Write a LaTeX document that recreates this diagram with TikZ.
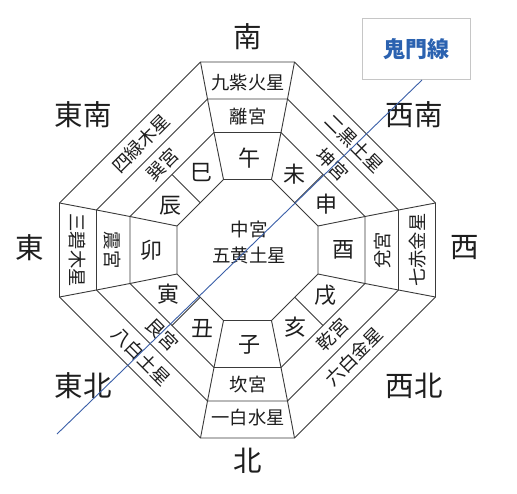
\documentclass[tikz,border=0pt]{standalone}
\usepackage{fontspec}
\usetikzlibrary{calc}
\setmainfont{Noto Sans CJK JP}
\definecolor{linegray}{HTML}{3A3A3A}
\definecolor{txt}{HTML}{1E1E1E}
\definecolor{kblue}{HTML}{2B62B0}
\definecolor{lblue}{HTML}{3A5FA8}
\begin{document}
\begin{tikzpicture}[x=1pt,y=-1pt,
  dirtxt/.style={font=\fontsize{28.5}{30}\selectfont, text=txt, inner sep=0pt},
  zodtxt/.style={font=\fontsize{22}{23}\selectfont, text=txt, inner sep=0pt},
  ringtxt/.style={font=\fontsize{18.3}{19}\selectfont, text=txt, inner sep=0pt},
  ctrtxt/.style={font=\fontsize{18.5}{19}\selectfont, text=txt, inner sep=0pt},
  oct/.style={draw=linegray, line width=0.9pt, line join=round},
  rad/.style={draw=linegray, line width=0.9pt}]
\useasboundingbox (0,0) rectangle (517,493);
\fill[white] (0,0) rectangle (517,493);
\begin{scope}[shift={(247.5,250)}]
  \foreach \n/\D/\h in {0/188/47,1/151/40,2/117.5/33.5,3/70.5/24}{
    \coordinate (L\n-1) at (-\h,-\D);
    \coordinate (L\n-2) at (\h,-\D);
    \coordinate (L\n-3) at (\D,-\h);
    \coordinate (L\n-4) at (\D,\h);
    \coordinate (L\n-5) at (\h,\D);
    \coordinate (L\n-6) at (-\h,\D);
    \coordinate (L\n-7) at (-\D,\h);
    \coordinate (L\n-8) at (-\D,-\h);
  }
\end{scope}
% octagons
\foreach \n in {0,1,2,3}{
  \draw[oct] (L\n-1) -- (L\n-2) -- (L\n-3) -- (L\n-4) -- (L\n-5) -- (L\n-6) -- (L\n-7) -- (L\n-8) -- cycle;
}
% radial lines
\foreach \k in {1,...,8}{
  \draw[rad] (L0-\k) -- (L1-\k) -- (L2-\k) -- (L3-\k);
}
% zodiac dividers on diagonals
\draw[rad] ($(L2-2)!0.5!(L2-3)$) -- ($(L3-2)!0.5!(L3-3)$);
\draw[rad] ($(L2-4)!0.5!(L2-5)$) -- ($(L3-4)!0.5!(L3-5)$);
\draw[rad] ($(L2-6)!0.5!(L2-7)$) -- ($(L3-6)!0.5!(L3-7)$);
\draw[rad] ($(L2-8)!0.5!(L2-1)$) -- ($(L3-8)!0.5!(L3-1)$);

% direction labels
\node[dirtxt] (dS) at (248,37) {南};
\node[dirtxt] (dN) at (248,461) {北};
\node[dirtxt] (dE) at (30,248) {東};
\node[dirtxt] (dW) at (465,248) {西};
\node[dirtxt] (dSE) at (83,115) {東南};
\node[dirtxt] (dSW) at (414,115) {西南};
\node[dirtxt] (dNE) at (83,386) {東北};
\node[dirtxt] (dNW) at (414,386) {西北};

% center
\node[ctrtxt] (c1) at (249,229) {中宮};
\node[ctrtxt] (c2) at (249,255) {五黄土星};

% zodiac
\node[zodtxt] (z1) at (249,158) {午};
\node[zodtxt] (z2) at (249,345) {子};
\node[zodtxt] (z3) at (151,250) {卯};
\node[zodtxt] (z4) at (343,250) {酉};
\node[zodtxt] (z5) at (201,173) {巳};
\node[zodtxt] (z6) at (294,174) {未};
\node[zodtxt] (z7) at (326,204) {申};
\node[zodtxt] (z8) at (170,206) {辰};
\node[zodtxt] (z9) at (168,294) {寅};
\node[zodtxt] (z10) at (202,329) {丑};
\node[zodtxt] (z11) at (295,327) {亥};
\node[zodtxt] (z12) at (325,295) {戌};

% palaces
\node[ringtxt] (p1) at (248,117) {離宮};
\node[ringtxt] (p2) at (248,385) {坎宮};
\node[ringtxt, rotate=-90] (p3) at (112,250) {震宮};
\node[ringtxt, rotate=90] (p4) at (383,250) {兌宮};
\node[ringtxt, rotate=-45] (p5) at (332.5,165) {坤宮};
\node[ringtxt, rotate=45] (p6) at (162.5,165) {巽宮};
\node[ringtxt, rotate=-45] (p7) at (162.5,335) {艮宮};
\node[ringtxt, rotate=45] (p8) at (332.5,335) {乾宮};

% stars
\node[ringtxt] (s1) at (248,83) {九紫火星};
\node[ringtxt] (s2) at (248,418) {一白水星};
\node[ringtxt, rotate=-90] (s3) at (77,250) {三碧木星};
\node[ringtxt, rotate=90] (s4) at (418,250) {七赤金星};
\node[ringtxt, rotate=-45] (s5) at (354,143.5) {二黒土星};
\node[ringtxt, rotate=45] (s6) at (141,143.5) {四緑木星};
\node[ringtxt, rotate=-45] (s7) at (141,356.5) {八白土星};
\node[ringtxt, rotate=45] (s8) at (354,356.5) {六白金星};

% kimon line and box
\node[draw=gray!45, line width=1pt, fill=white, minimum width=108pt, minimum height=61pt,
      inner sep=0pt, text=kblue, font=\fontsize{22}{24}\selectfont\bfseries] (kimon) at (416,49) {鬼門線};
\coordinate (kmA) at (57,434);
\coordinate (kmB) at (422,80);
\draw[lblue, line width=0.9pt] (kmA) -- (kmB);
\end{tikzpicture}
\end{document}
